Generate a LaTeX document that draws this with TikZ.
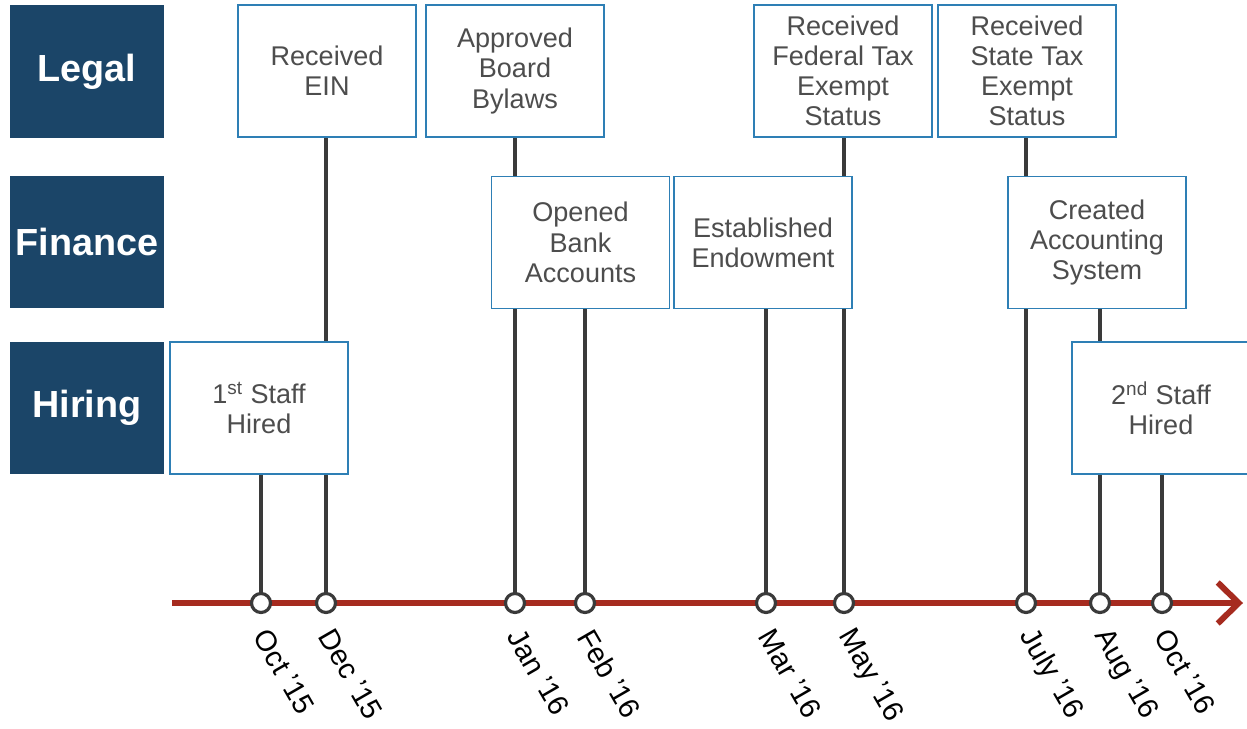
\documentclass[tikz,border=0pt]{standalone}
\usepackage{fontspec}
\setmainfont{Liberation Sans}
\usetikzlibrary{arrows.meta, backgrounds}

\definecolor{navy}{HTML}{1B4568}
\definecolor{boxblue}{HTML}{2E7FB5}
\definecolor{txtgray}{HTML}{4D4D4D}
\definecolor{axisred}{HTML}{A62B1F}
\definecolor{stemgray}{HTML}{3A3A3A}

\tikzset{
  cat/.style={fill=navy, text=white, minimum width=3.08cm, minimum height=2.66cm,
    inner sep=0pt, font=\fontsize{21.5}{24}\selectfont\bfseries},
  event/.style={draw=boxblue, line width=1.1pt, fill=white, text=txtgray, align=center,
    minimum width=3.56cm, minimum height=2.64cm, inner sep=0pt,
    font=\fontsize{15.4}{17.2}\selectfont},
  stamp/.style={circle, draw=stemgray, line width=1.8pt, fill=white,
    minimum size=0.38cm, inner sep=0pt},
  when/.style={anchor=west, rotate=-60, inner sep=0pt, font=\fontsize{16.5}{18}\selectfont},
  stem/.style={draw=stemgray, line width=2pt},
}

\begin{document}
\begin{tikzpicture}[x=0.02cm, y=-0.02cm]
    \useasboundingbox (0,0) rectangle (1247,729);

    \node (legal)    [cat]   at (87,71.5)   {Legal};
    \node (finance)  [cat]   at (87,242)    {Finance};
    \node (hiring)   [cat]   at (87,408)    {Hiring};

    \node (ein)      [event] at (327,71)    {Received\\EIN};
    \node (bylaws)   [event] at (515,71)    {Approved\\Board\\Bylaws};
    \node (fedtax)   [event] at (843,71)    {Received\\Federal Tax\\Exempt\\Status};
    \node (statetax) [event] at (1027,71)   {Received\\State Tax\\Exempt\\Status};
    \node (bank)     [event] at (580.5,242.5) {Opened\\Bank\\Accounts};
    \node (endow)    [event] at (763,242.5) {Established\\Endowment};
    \node (acct)     [event] at (1097,242.5) {Created\\Accounting\\System};
    \node (staffA)   [event] at (259,408)   {1\textsuperscript{st} Staff\\Hired};
    \node (staffB)   [event] at (1161,408)  {2\textsuperscript{nd} Staff\\Hired};

    \coordinate (axisstart) at (172,603);
    \coordinate (axisend)   at (1243,603);

    \node (oct15) [stamp] at (261,603)  {};
    \node (dec15) [stamp] at (326,603)  {};
    \node (jan16) [stamp] at (515,603)  {};
    \node (feb16) [stamp] at (585,603)  {};
    \node (mar16) [stamp] at (766,603)  {};
    \node (may16) [stamp] at (844,603)  {};
    \node (jul16) [stamp] at (1026,603) {};
    \node (aug16) [stamp] at (1100,603) {};
    \node (oct16) [stamp] at (1162,603) {};

    \node (loct15) [when] at ([yshift=-10pt]oct15.south) {Oct '15};
    \node (ldec15) [when] at ([yshift=-10pt]dec15.south) {Dec '15};
    \node (ljan16) [when] at ([yshift=-10pt]jan16.south) {Jan '16};
    \node (lfeb16) [when] at ([yshift=-10pt]feb16.south) {Feb '16};
    \node (lmar16) [when] at ([yshift=-10pt]mar16.south) {Mar '16};
    \node (lmay16) [when] at ([yshift=-10pt]may16.south) {May '16};
    \node (ljul16) [when] at ([yshift=-10pt]jul16.south) {July '16};
    \node (laug16) [when] at ([yshift=-10pt]aug16.south) {Aug '16};
    \node (loct16) [when] at ([yshift=-10pt]oct16.south) {Oct '16};

    \begin{scope}[on background layer]
        \draw[axisred, line width=3.4pt, -{Straight Barb[length=0.42cm, width=0.82cm]}]
            (axisstart) -- (axisend);
        \draw[stem] (staffA.south -| oct15) -- (oct15);
        \draw[stem] (ein.south -| dec15)    -- (dec15);
        \draw[stem] (bylaws.south -| jan16) -- (jan16);
        \draw[stem] (bank.south -| feb16)   -- (feb16);
        \draw[stem] (endow.south -| mar16)  -- (mar16);
        \draw[stem] (fedtax.south -| may16) -- (may16);
        \draw[stem] (statetax.south -| jul16) -- (jul16);
        \draw[stem] (acct.south -| aug16)   -- (aug16);
        \draw[stem] (staffB.south -| oct16) -- (oct16);
    \end{scope}
\end{tikzpicture}
\end{document}
